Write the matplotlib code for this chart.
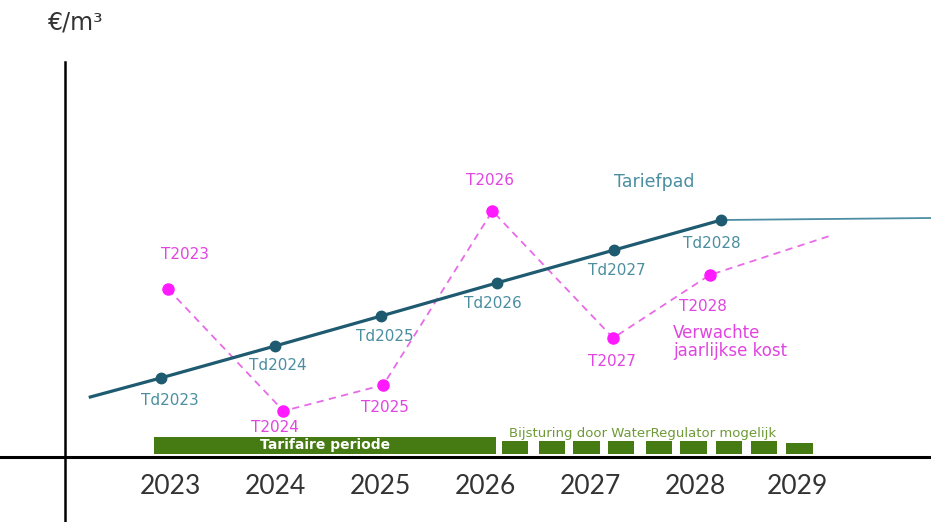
import numpy as np
import matplotlib.pyplot as plt

# tick years and their label positions (year units)
years = [2023, 2024, 2025, 2026, 2027, 2028, 2029]

# tariefpad (Td) points
td_x = [2022.93, 2024.02, 2025.03, 2026.13, 2027.25, 2028.27]
td_y = [79, 111, 141, 174, 207, 237]
td_labels = ["Td2023", "Td2024", "Td2025", "Td2026", "Td2027", "Td2028"]

# expected yearly cost (T) points
t_x = [2023.0, 2024.10, 2025.05, 2026.09, 2027.24, 2028.16]
t_y = [168, 46, 72, 246, 119, 182]
t_labels = ["T2023", "T2024", "T2025", "T2026", "T2027", "T2028"]

# label offsets in points (dx, dy)
td_off = [(7, -16), (2, -14), (3, -15), (-3, -15), (2, -15), (-7, -17)]
t_off = [(12, 25), (-6, -12), (1, -16), (-2, 22), (-1, -17), (-5, -23)]

teal = "#1e5a70"
teal_txt = "#4a8ea0"
mag = "#ff1aff"
mag_txt = "#e045e0"
green = "#467a12"

fig = plt.figure(figsize=(9.31, 5.22), dpi=100)
ax = fig.add_axes([0, 0, 1, 1])
ax.set_xlim(2021.4, 2030.267)
ax.set_ylim(-65, 457)
ax.axis("off")

# axes lines
ax.plot([2021.4, 2030.267], [0, 0], color="black", lw=2.2, zorder=3)
ax.plot([2022.02, 2022.02], [-65, 395], color="black", lw=1.8, zorder=3)
ax.text(2022.12, 435, "€/m³", fontsize=17, color="#333333", ha="center", va="center")

# year labels
for yr in years:
    ax.text(yr + 0.02 if yr < 2029 else yr - 0.01, -30, str(yr), fontsize=19,
            color="#333333", ha="center", va="center", family="Lato")

# tarifaire periode bar and small bars
ax.bar(2022.87, 17, width=3.25, bottom=3, align="edge", color=green, zorder=2)
ax.text(2024.5, 11.5, "Tarifaire periode", fontsize=10, color="white",
        fontweight="bold", ha="center", va="center", zorder=4)
small_starts = [2026.18, 2026.53, 2026.86, 2027.19, 2027.55, 2027.88, 2028.22, 2028.55, 2028.89]
for i, s in enumerate(small_starts):
    h = 11 if i == len(small_starts) - 1 else 13
    ax.bar(s, h, width=0.25, bottom=3, align="edge", color=green, zorder=2)
ax.text(2026.25, 23.5, "Bijsturing door WaterRegulator mogelijk", fontsize=9.5,
        color="#6e9a36", ha="left", va="center")

# tariefpad line
ax.plot([2022.26] + td_x, [60] + td_y, color=teal, lw=2.3, zorder=5)
ax.plot([td_x[-1], 2030.267], [td_y[-1], 239], color="#4d8ea3", lw=1.3, zorder=5)
ax.plot(td_x, td_y, "o", color=teal, ms=7.5, zorder=6)
for x, y, lab, off in zip(td_x, td_y, td_labels, td_off):
    ax.annotate(lab, (x, y), xytext=off, textcoords="offset points",
                fontsize=11, color=teal_txt, ha="center", va="center")
ax.text(2027.63, 275, "Tariefpad", fontsize=12.5, color=teal_txt, ha="center", va="center")

# expected cost dashed line
ax.plot(t_x + [2029.3], t_y + [221], color="#e86ae8", lw=1.3, ls=(0, (4, 3)), zorder=4)
ax.plot(t_x, t_y, "o", color=mag, ms=8, zorder=6)
for x, y, lab, off in zip(t_x, t_y, t_labels, t_off):
    ax.annotate(lab, (x, y), xytext=off, textcoords="offset points",
                fontsize=11, color=mag_txt, ha="center", va="center")
ax.text(2027.81, 115, "Verwachte\njaarlijkse kost", fontsize=12, color=mag_txt,
        ha="left", va="center", linespacing=1.0)

fig.savefig("out.png", dpi=100)
